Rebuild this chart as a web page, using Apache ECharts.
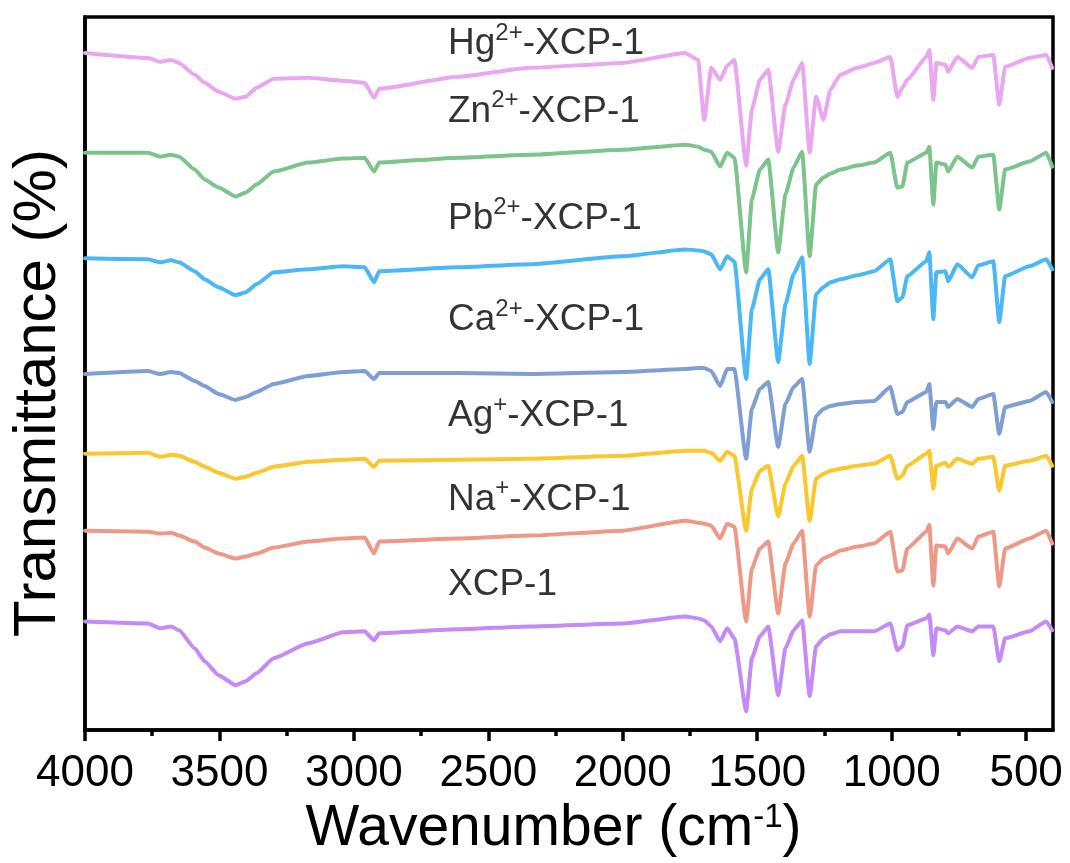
<!DOCTYPE html>
<html>
<head>
<meta charset="utf-8">
<script src="https://cdn.jsdelivr.net/npm/echarts@6/dist/echarts.min.js"></script>
<style>
html,body{margin:0;padding:0;background:#fff;}
#chart{width:1070px;height:863px;}
</style>
</head>
<body>
<div id="chart"></div>
<script>
// Wavenumbers (cm-1) shared by all spectra
const wavenumbers = [4000,3766,3720,3680,3650,3592,3555,3503,3440,3402,3362,3298,3170,
 3040,2960,2925,2906,2612,2345,2000,1768,1720,1697,
 1671,1638,1612,1585,1541,1520,1490,1459,1422,1395,
 1365,1333,1305,1281,1254,1228,1191,1128,1065,1005,
 979,960,942,871,860,845,834,800,790,756,
 700,678,622,600,578,488,425,403];

// Offset transmittance (a.u.) of each sample
const hgValues = [135.8,134.8,134.0,134.4,133.8,131.4,129.8,128.0,126.6,127.0,128.8,130.6,130.8,
 130.2,129.8,126.8,128.6,131.0,132.8,133.8,135.8,134.4,122.4,
 132.8,130.4,133.2,134.4,113.2,124.4,130.4,132.4,116.0,125.4,
 130.4,133.8,115.8,127.0,122.4,128.4,131.4,132.8,133.8,135.0,
 127.0,128.8,130.4,135.0,136.4,126.4,133.8,133.4,132.0,135.0,
 132.8,135.0,135.4,125.4,133.0,134.8,135.4,132.8];
const znValues = [115.8,115.8,115.0,115.4,115.0,112.4,110.4,108.8,107.0,107.8,109.4,112.0,113.8,
 114.6,114.8,112.0,113.8,114.8,115.4,116.4,117.4,117.0,116.4,
 116.0,113.0,115.8,114.8,91.8,106.4,112.4,114.4,95.8,107.4,
 112.8,116.0,95.0,109.4,110.8,111.6,112.4,113.2,113.8,115.8,
 108.8,109.0,113.8,115.8,117.0,105.4,113.8,113.4,112.0,115.0,
 112.8,115.0,115.4,104.4,112.4,114.0,115.8,113.0];
const pbValues = [94.6,94.4,93.8,94.2,93.8,92.0,90.4,88.8,87.2,87.8,89.4,91.8,92.4,
 93.0,92.8,89.8,92.0,92.8,93.4,95.0,96.4,96.2,96.0,
 95.4,92.4,95.0,94.0,70.4,84.4,90.4,92.4,73.8,85.4,
 91.4,94.8,73.4,87.4,88.8,89.8,90.4,91.2,92.0,94.4,
 86.0,86.8,91.0,94.0,95.8,82.4,91.8,92.0,90.0,93.4,
 90.8,93.2,94.0,81.8,91.0,93.0,94.4,92.4];
const caValues = [71.4,72.0,71.4,71.8,71.6,70.0,69.0,67.4,66.2,66.8,67.8,69.4,71.0,
 71.8,72.0,70.4,71.6,71.6,71.4,71.8,72.4,72.6,72.6,
 72.0,69.0,72.4,72.4,54.4,64.4,68.4,69.8,56.8,65.4,
 68.8,70.4,55.8,63.0,64.4,65.0,65.4,65.8,66.0,68.8,
 63.4,63.8,65.8,67.8,69.4,60.4,65.8,65.8,64.8,66.4,
 64.8,66.4,67.4,59.4,64.8,66.0,67.8,65.8];
const agValues = [55.4,55.6,54.8,55.2,55.0,53.8,52.8,51.6,50.4,50.8,51.6,52.8,53.8,
 54.2,54.4,52.8,54.0,54.2,54.4,55.0,56.0,56.0,56.0,
 55.6,54.0,55.8,55.0,40.0,48.4,52.0,53.0,42.8,49.4,
 53.0,55.0,42.0,50.4,51.4,52.0,52.4,53.0,53.4,55.0,
 50.4,51.0,53.0,55.4,56.0,48.4,53.0,53.6,52.8,54.4,
 53.4,54.4,54.8,48.0,53.0,54.0,55.0,53.0];
const naValues = [40.0,39.8,39.4,39.6,39.0,37.8,36.6,35.4,34.4,34.8,35.4,36.6,37.8,
 38.4,38.6,35.4,37.8,38.4,39.0,40.0,42.0,41.6,41.4,
 41.0,38.4,41.4,40.8,21.8,32.4,36.4,37.8,23.4,33.4,
 37.4,40.0,22.8,33.0,34.4,35.0,36.0,36.8,37.4,39.8,
 31.8,32.0,36.4,39.8,41.2,29.0,37.0,36.8,35.4,38.4,
 36.4,38.8,39.8,28.8,36.4,38.4,40.0,37.4];
const xcpValues = [21.8,21.4,20.4,20.8,20.0,16.4,13.8,11.0,9.0,9.8,11.4,14.4,17.4,
 19.6,19.8,18.0,19.4,20.2,20.8,21.4,22.8,22.4,22.0,
 20.8,17.8,20.4,18.4,3.8,14.4,18.8,20.8,7.0,16.4,
 20.0,22.0,6.8,16.8,18.4,19.2,19.8,19.8,19.8,21.4,
 16.0,16.8,21.0,22.4,23.2,15.0,20.4,20.0,19.4,20.8,
 19.8,20.8,20.8,13.8,18.4,19.8,21.8,20.0];

const seriesNames = ['Hg2+-XCP-1','Zn2+-XCP-1','Pb2+-XCP-1','Ca2+-XCP-1','Ag+-XCP-1','Na+-XCP-1','XCP-1'];
const labelParts = [['Hg','2+','-XCP-1'],['Zn','2+','-XCP-1'],['Pb','2+','-XCP-1'],['Ca','2+','-XCP-1'],['Ag','+','-XCP-1'],['Na','+','-XCP-1'],['XCP-1','','']];
const labelWavenumber = 2650;
const labelLevels = [137.6,124.0,102.6,82.2,63.0,46.2,29.2];
const colors = ['#EBA6F2','#7DC38C','#4BB7F5','#7E9ED4','#FCC62D','#EE9888','#C48AF5'];
const allValues = [hgValues,znValues,pbValues,caValues,agValues,naValues,xcpValues];

const majorTicks = [500,1000,1500,2000,2500,3000,3500,4000];
const minorTicks = [750,1250,1750,2250,2750,3250,3750];

const FONT = 'Liberation Sans, Arial, sans-serif';

const chart = echarts.init(document.getElementById('chart'), null, {renderer:'canvas'});

const lineSeries = allValues.map((vals, i) => ({
  name: seriesNames[i],
  type: 'line',
  xAxisIndex: 0,
  data: wavenumbers.map((w, j) => [w, vals[j]]),
  showSymbol: false,
  symbol: 'none',
  smooth: 0.15,
  smoothMonotone: 'x',
  lineStyle: {color: colors[i], width: 4, join: 'round', cap: 'round'},
  itemStyle: {color: colors[i]},
  silent: true,
  z: 3
}));

const labelSeries = {
  type: 'scatter',
  xAxisIndex: 0,
  symbolSize: 0,
  silent: true,
  data: labelLevels.map((v, i) => ({value: [labelWavenumber, v], name: seriesNames[i]})),
  label: {
    show: true,
    position: [0, 0],
    align: 'left',
    verticalAlign: 'middle',
    color: '#000',
    textBorderWidth: 0,
    formatter: p => {
      const parts = labelParts[p.dataIndex];
      return '{b|' + parts[0] + '}' + (parts[1] ? '{s|' + parts[1] + '}' : '') + (parts[2] ? '{b|' + parts[2] + '}' : '');
    },
    rich: {
      b: {fontSize: 37, fontFamily: FONT, color: '#000', lineHeight: 46, verticalAlign: 'middle'},
      s: {fontSize: 24, fontFamily: FONT, color: '#000', lineHeight: 24, verticalAlign: 'top'}
    }
  },
  z: 5
};

const option = {
  animation: false,
  backgroundColor: '#fff',
  grid: {left: 83, right: 17, top: 17, bottom: 131, show: true, borderColor: '#000', borderWidth: 3.5, backgroundColor: 'transparent'},
  xAxis: [{
    type: 'value',
    min: 400, max: 4000,
    inverse: true,
    position: 'bottom',
    axisLine: {show: true, lineStyle: {color: '#000', width: 3.5}},
    axisTick: {show: true, length: 11, customValues: majorTicks, lineStyle: {color: '#000', width: 3.5}},
    axisLabel: {show: true, customValues: majorTicks, formatter: v => String(v), margin: 22, fontSize: 44, fontFamily: FONT, color: '#000'},
    splitLine: {show: false},
    name: 'Wavenumber (cm{s|-1})',
    nameLocation: 'middle',
    nameGap: 68,
    nameTextStyle: {
      fontSize: 57, fontFamily: FONT, color: '#000', padding: [0, 31, 0, 0],
      rich: {s: {fontSize: 33, fontFamily: FONT, color: '#000', verticalAlign: 'top', lineHeight: 30}}
    }
  }, {
    type: 'value',
    min: 400, max: 4000,
    inverse: true,
    position: 'bottom',
    axisLine: {show: false},
    axisTick: {show: true, length: 6, customValues: minorTicks, lineStyle: {color: '#000', width: 3.5}},
    axisLabel: {show: false},
    splitLine: {show: false}
  }],
  yAxis: {
    type: 'value',
    min: 0, max: 143,
    axisLine: {show: true, lineStyle: {color: '#000', width: 3.5}},
    axisTick: {show: false},
    axisLabel: {show: false},
    splitLine: {show: false},
    name: 'Transmittance (%)',
    nameLocation: 'middle',
    nameGap: 17,
    nameTextStyle: {fontSize: 60, fontFamily: FONT, color: '#000', padding: [0, 39, 0, 0]}
  },
  series: [...lineSeries, labelSeries]
};
chart.setOption(option);
</script>
</body>
</html>
